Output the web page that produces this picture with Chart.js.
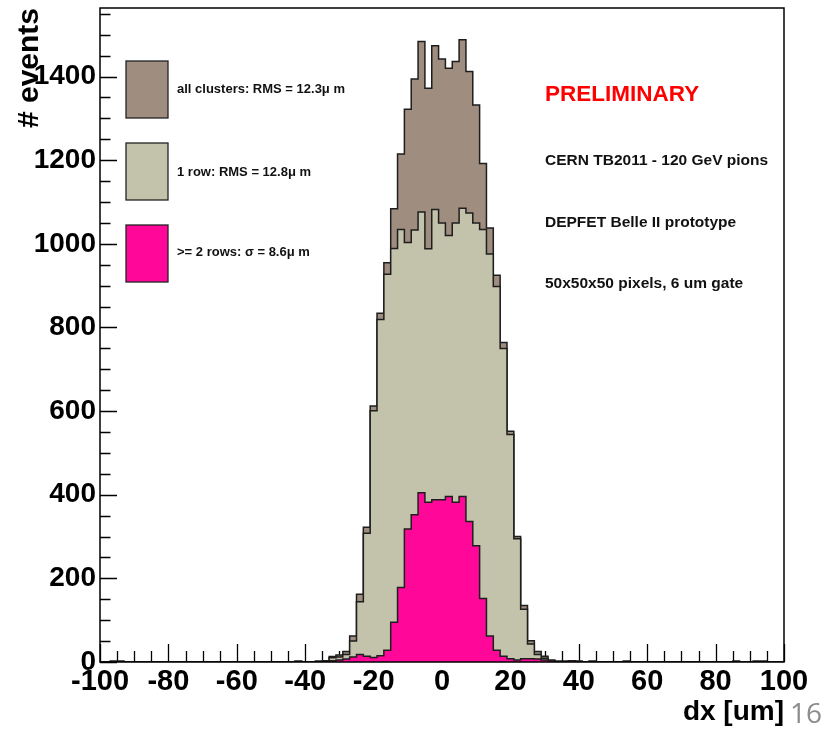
<!DOCTYPE html>
<html>
<head>
<meta charset="utf-8">
<script src="https://cdn.jsdelivr.net/npm/chart.js"></script>
<style>
  body { margin: 0; background: #fff; }
  canvas { display: block; }
</style>
</head>
<body>
<canvas id="dxChart" width="836" height="729"></canvas>
<script>
// 101 bins of 2 um, centres -100, -98, ... 100 (edges at odd values)
const binStart = -101;
const binWidth = 2;

// all clusters
const allClusters = [
  0, 0, 2, 2, 0, 0, 0, 0, 0, 0,                              // -100 .. -82
  0, 0, 0, 0, 0, 0, 0, 0, 0, 0,                              // -80 .. -62
  0, 0, 0, 0, 0, 0, 0, 0, 0, 2,                              // -60 .. -42
  0, 0, 2, 3, 13, 17, 25, 62, 162, 322,                      // -40 .. -22
  612, 834, 955, 1084, 1215, 1322, 1394, 1484, 1372, 1474,   // -20 .. -2
  1442, 1420, 1436, 1488, 1412, 1332, 1192, 1038, 925, 764,  // 0 .. 18
  552, 300, 135, 51, 25, 14, 5, 2, 2, 3,                     // 20 .. 38
  2, 0, 2, 0, 0, 0, 0, 2, 0, 0,                              // 40 .. 58
  0, 0, 0, 0, 0, 0, 0, 0, 0, 0,                              // 60 .. 78
  0, 0, 0, 2, 0, 0, 2, 2, 0, 0,                              // 80 .. 98
  0                                                          // 100
];

// single row clusters
const oneRow = [
  0, 0, 2, 2, 0, 0, 0, 0, 0, 0,
  0, 0, 0, 0, 0, 0, 0, 0, 0, 0,
  0, 0, 0, 0, 0, 0, 0, 0, 0, 2,
  0, 0, 2, 3, 10, 12, 18, 50, 144, 308,
  601, 819, 927, 989, 1034, 1003, 1033, 1076, 988, 1082,
  1050, 1020, 1050, 1085, 1074, 1050, 1034, 976, 898, 750,
  544, 295, 126, 43, 18, 9, 2, 1, 2, 0,
  0, 0, 2, 0, 0, 0, 0, 2, 0, 0,
  0, 0, 0, 0, 0, 0, 0, 0, 0, 0,
  0, 0, 0, 2, 0, 0, 2, 2, 0, 0,
  0
];

// two or more rows
const twoRows = [
  0, 0, 0, 0, 0, 0, 0, 0, 0, 0,
  0, 0, 0, 0, 0, 0, 0, 0, 0, 0,
  0, 0, 0, 0, 0, 0, 0, 0, 0, 0,
  0, 0, 0, 0, 3, 5, 7, 12, 18, 14,
  11, 15, 28, 95, 178, 318, 352, 405, 382, 388,
  388, 396, 382, 396, 336, 278, 152, 62, 28, 14,
  8, 5, 8, 8, 7, 5, 3, 1, 0, 3,
  2, 0, 0, 0, 0, 0, 0, 0, 0, 0,
  0, 0, 0, 0, 0, 0, 0, 0, 0, 0,
  0, 0, 0, 0, 0, 0, 0, 0, 0, 0,
  0
];

const seriesLabels = [
  "all clusters: RMS = 12.3\u03bc m",
  "1 row: RMS = 12.8\u03bc m",
  ">= 2 rows: \u03c3 = 8.6\u03bc m"
];
const seriesColors = ["#9f8d80", "#c3c2aa", "#ff0899"];

const xTickValues = [-100, -80, -60, -40, -20, 0, 20, 40, 60, 80, 100];
const yTickValues = [0, 200, 400, 600, 800, 1000, 1200, 1400];
const xMinorStep = 5;
const yMinorStep = 50;
const yMax = 1564;

const noteTitle = "PRELIMINARY";
const noteLines = [
  "CERN TB2011 - 120 GeV pions",
  "DEPFET Belle II prototype",
  "50x50x50 pixels, 6 um gate"
];
const pageNumber = "16";

// histogram -> step points on the bin edges (last edge repeats the last bin)
function toSteps(counts) {
  const pts = counts.map((c, i) => ({ x: binStart + i * binWidth, y: c }));
  pts.push({ x: binStart + counts.length * binWidth, y: counts[counts.length - 1] });
  return pts;
}

const boldFont = "'Liberation Sans', Arial, Helvetica, sans-serif";

const histoDecor = {
  id: "histoDecor",
  beforeDatasetsDraw(chart) {
    // ROOT style ticks inside the frame, covered by the histograms
    const { ctx, chartArea: a, scales: { x, y } } = chart;
    ctx.save();
    ctx.strokeStyle = "#000";
    ctx.lineWidth = 1.3;
    ctx.beginPath();
    for (let v = x.min; v <= x.max; v += xMinorStep) {
      const px = Math.round(x.getPixelForValue(v)) + 0.5;
      const len = v % 20 === 0 ? 18 : 11;
      ctx.moveTo(px, a.bottom);
      ctx.lineTo(px, a.bottom - len);
    }
    for (let v = 0; v <= y.max; v += yMinorStep) {
      const py = Math.round(y.getPixelForValue(v)) + 0.5;
      const len = v % 200 === 0 ? 17 : 10.5;
      ctx.moveTo(a.left, py);
      ctx.lineTo(a.left + len, py);
    }
    ctx.stroke();
    ctx.restore();
  },
  afterDraw(chart) {
    const { ctx, chartArea: a } = chart;
    ctx.save();

    // frame
    ctx.strokeStyle = "#000";
    ctx.lineWidth = 1.5;
    ctx.strokeRect(a.left, a.top, a.right - a.left, a.bottom - a.top);

    // legend boxes
    const boxTops = [61, 143, 225];
    const textBase = [93, 175.5, 256];
    chart.data.datasets.forEach((ds, i) => {
      ctx.fillStyle = ds.backgroundColor;
      ctx.fillRect(126, boxTops[i], 42, 57);
      ctx.lineWidth = 1.3;
      ctx.strokeStyle = "#222";
      ctx.strokeRect(126, boxTops[i], 42, 57);
      ctx.fillStyle = "#111";
      ctx.font = "bold 13px " + boldFont;
      ctx.textBaseline = "alphabetic";
      ctx.fillText(ds.label, 177, textBase[i]);
    });

    // notes
    ctx.fillStyle = "#ff0000";
    ctx.font = "bold 22.5px " + boldFont;
    ctx.fillText(noteTitle, 545, 101);
    ctx.fillStyle = "#111";
    ctx.font = "bold 15.5px " + boldFont;
    [165, 226.5, 288].forEach((yy, i) => ctx.fillText(noteLines[i], 545, yy));

    // page number
    ctx.fillStyle = "#8c8c8c";
    ctx.font = "28px 'Open Sans', 'Noto Sans', sans-serif";
    ctx.fillText(pageNumber, 790, 723);
    ctx.restore();
  }
};

new Chart(document.getElementById("dxChart").getContext("2d"), {
  type: "line",
  data: {
    datasets: [allClusters, oneRow, twoRows].map((counts, i) => ({
      label: seriesLabels[i],
      data: toSteps(counts),
      stepped: true,
      fill: "origin",
      backgroundColor: seriesColors[i],
      borderColor: "#1e1e1e",
      borderWidth: 1.5,
      pointRadius: 0,
      tension: 0,
      order: 3 - i
    }))
  },
  options: {
    responsive: false,
    animation: false,
    devicePixelRatio: 1,
    layout: { padding: { top: 8, right: 52, left: 0, bottom: 0 } },
    plugins: { legend: { display: false }, tooltip: { enabled: false } },
    scales: {
      x: {
        type: "linear",
        min: -100,
        max: 100,
        grid: { display: false, drawTicks: false },
        border: { display: false },
        afterBuildTicks: s => { s.ticks = xTickValues.map(v => ({ value: v })); },
        afterFit: s => { s.height = 67; s.paddingLeft = 0; s.paddingRight = 0; },
        ticks: {
          autoSkip: false,
          maxRotation: 0,
          padding: 3,
          color: "#000",
          callback: v => String(v),
          font: { family: boldFont, size: 29, weight: "bold" }
        },
        title: {
          display: true,
          text: "dx [um]",
          align: "end",
          color: "#000",
          padding: { top: 0, bottom: 3 },
          font: { family: boldFont, size: 28, weight: "bold", lineHeight: 1.0 }
        }
      },
      y: {
        min: 0,
        max: yMax,
        grid: { display: false, drawTicks: false },
        border: { display: false },
        afterBuildTicks: s => { s.ticks = yTickValues.map(v => ({ value: v })); },
        afterFit: s => { s.width = 100; s.paddingTop = 0; s.paddingBottom = 0; },
        ticks: {
          padding: 4,
          color: "#000",
          callback: v => String(v),
          font: { family: boldFont, size: 28, weight: "bold" }
        },
        title: {
          display: true,
          text: "# events",
          align: "end",
          color: "#000",
          padding: { top: 12, bottom: 0 },
          font: { family: boldFont, size: 30, weight: "bold" }
        }
      }
    }
  },
  plugins: [histoDecor]
});
</script>
</body>
</html>
